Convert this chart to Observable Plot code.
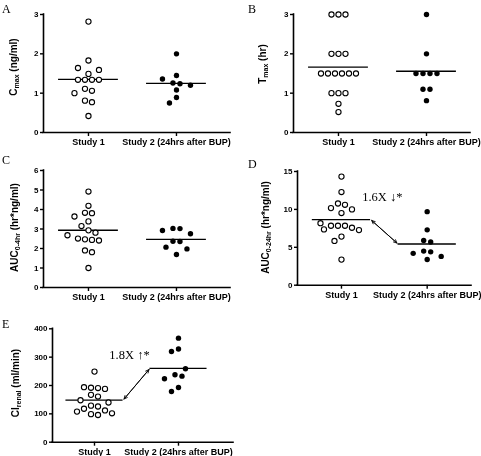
<!DOCTYPE html>
<html><head><meta charset="utf-8">
<script src="https://cdn.jsdelivr.net/npm/d3@7"></script>
<script src="https://cdn.jsdelivr.net/npm/@observablehq/plot@0.6"></script>
<style>
body{margin:0;background:#fff}
#fig{position:relative;width:481px;height:456px;overflow:hidden;background:#fff}
#fig svg{position:absolute;overflow:visible;will-change:transform}
</style></head><body><div id="fig"></div>
<script>
// ---- data ----
const studies = ["Study 1", "Study 2 (24hrs after BUP)"];

const cmaxStudy1 = [2.82, 1.83, 1.64, 1.59, 1.53, 1.49, 1.49, 1.34, 1.34, 1.34, 1.34, 1.11, 1.06, 1.00, 0.81, 0.77, 0.42];
const cmaxStudy2 = [2.00, 1.45, 1.36, 1.26, 1.24, 1.20, 1.08, 0.89, 0.75];
const cmaxTicks = [0, 1, 2, 3];

const tmaxStudy1 = [3, 3, 3, 2, 2, 2, 1.5, 1.5, 1.5, 1.5, 1.5, 1.5, 1, 1, 1, 0.73, 0.52];
const tmaxStudy2 = [3, 2, 1.5, 1.5, 1.5, 1.5, 1.1, 1.1, 0.81];
const tmaxTicks = [0, 1, 2, 3];

const auc04Study1 = [4.92, 4.19, 3.83, 3.81, 3.64, 3.39, 3.15, 2.93, 2.81, 2.68, 2.51, 2.47, 2.44, 2.41, 1.90, 1.81, 1.00];
const auc04Study2 = [3.03, 3.02, 2.92, 2.76, 2.37, 2.36, 2.07, 1.98, 1.69];
const auc04Ticks = [0, 1, 2, 3, 4, 5, 6];

const auc024Study1 = [14.33, 12.29, 10.78, 10.61, 10.17, 10.0, 9.52, 8.18, 7.84, 7.84, 7.84, 7.58, 7.36, 7.27, 6.41, 5.84, 3.38];
const auc024Study2 = [9.7, 7.3, 5.9, 5.7, 4.5, 4.4, 4.2, 3.8, 3.4];
const auc024Ticks = [0, 5, 10, 15];

const clrenalStudy1 = [249, 194, 192, 191, 188, 167, 161, 148, 140, 129, 126, 118, 112, 108, 102, 99, 96];
const clrenalStudy2 = [367, 329, 320, 259, 238, 233, 224, 193, 179];
const clrenalTicks = [0, 100, 200, 300, 400];

const panelLetters = ["A", "B", "C", "D", "E"];
const noteD = "1.6X \u2193*";
const noteE = "1.8X \u2191*";

// ---- styling ----
const SANS = "'Liberation Sans', Arial, Helvetica, sans-serif";
const SERIF = "'Liberation Serif', 'DejaVu Serif'";
const HALF = 0.34;   // half-length of the mean line (category units)
const STEP = 7;      // symbol spacing (px)
const ROWTOL = 2;    // px: values closer than this share a row

function layoutColumn(G, py, ox) {
  const idx = Array.from(G).sort((a, b) => py[a] - py[b]);
  const rows = [];
  for (const i of idx) {
    const row = rows[rows.length - 1];
    if (row && py[i] - py[row[0]] <= ROWTOL) row.push(i); else rows.push([i]);
  }
  rows.sort((a, b) => b.length - a.length || py[a[0]] - py[b[0]]);
  const placed = [];
  for (const row of rows) {
    const m = row.length;
    let offs;
    for (let k = 0; k < 60; ++k) {
      offs = row.map((i, j) => {
        if (m === 1) return k === 0 ? 0 : (k % 2 ? -1 : 1) * Math.ceil(k / 2) * STEP;
        const b = (j - (m - 1) / 2) * STEP;
        return b + Math.sign(b) * k * STEP;
      });
      const ok = row.every((i, j) => placed.every(p => Math.hypot(p.x - offs[j], p.y - py[i]) >= STEP - 0.05));
      if (ok) break;
    }
    row.forEach((i, j) => { ox[i] = offs[j]; placed.push({x: offs[j], y: py[i]}); });
  }
}

function swarm(options) {
  return Plot.initializer(options, function (data, facets, channels, scales) {
    const X = channels.x.value, Y = channels.y.value;
    const n = X.length;
    const px = new Float64Array(n), py = new Float64Array(n), ox = new Float64Array(n);
    for (let i = 0; i < n; ++i) { px[i] = scales.x(X[i]); py[i] = scales.y(Y[i]); }
    for (const I of facets) {
      for (const G of d3.group(I, i => X[i]).values()) layoutColumn(G, py, ox);
    }
    for (let i = 0; i < n; ++i) ox[i] += px[i];
    return {data, facets, channels: {x: {value: ox}, y: {value: py}}};
  });
}

const NS = "http://www.w3.org/2000/svg";
function addYLabel(svg, parts, x, y) {
  const t = document.createElementNS(NS, "text");
  t.setAttribute("transform", `translate(${x},${y}) rotate(-90)`);
  t.setAttribute("text-anchor", "middle");
  t.setAttribute("font-family", SANS);
  t.setAttribute("font-weight", "bold");
  t.setAttribute("font-size", "10");
  t.setAttribute("fill", "black");
  let shifted = false;
  for (const [s, sub] of parts) {
    const ts = document.createElementNS(NS, "tspan");
    ts.textContent = s;
    if (sub && !shifted) { ts.setAttribute("dy", "2"); shifted = true; }
    else if (!sub && shifted) { ts.setAttribute("dy", "-2"); shifted = false; }
    if (sub) ts.setAttribute("font-size", "7");
    t.appendChild(ts);
  }
  svg.appendChild(t);
}

const fig = document.getElementById("fig");

function panel(cfg) {
  const rows1 = cfg.s1.map(v => ({study: 0, value: v}));
  const rows2 = cfg.s2.map(v => ({study: 1, value: v}));
  const means = [{study: 0, value: d3.mean(cfg.s1)}, {study: 1, value: d3.mean(cfg.s2)}];
  const marks = [
    Plot.ruleY([0], {strokeWidth: 1.6, strokeLinecap: "square"}),
    Plot.ruleX([cfg.xDomain[0]], {strokeWidth: 1.6, strokeLinecap: "square"}),
    Plot.axisY({ticks: cfg.ticks, tickFormat: d => String(d), tickSize: 3, tickPadding: 2, fontSize: 8, strokeWidth: 1.4, label: null}),
    Plot.axisX({ticks: [0, 1], tickFormat: i => studies[i], tickSize: 4, tickPadding: 2, fontSize: 9, strokeWidth: 1.4, label: null}),
    Plot.ruleY(means, {x1: d => d.study - HALF, x2: d => d.study + HALF, y: "value", strokeWidth: 1.3}),
    Plot.dot(rows1, swarm({x: "study", y: "value", r: 2.6, fill: "white", stroke: "black", strokeWidth: 1.1})),
    Plot.dot(rows2, swarm({x: "study", y: "value", r: 2.7, fill: "black", stroke: "none"}))
  ];
  if (cfg.note) {
    const link = [{x1: HALF, y1: means[0].value, x2: 1 - HALF, y2: means[1].value}];
    const mid = [{x: 0.5, y: (means[0].value + means[1].value) / 2}];
    const ao = {headLength: 6, headAngle: 50, strokeWidth: 0.9, inset: 1.5};
    marks.push(
      Plot.arrow(link, {x1: "x1", y1: "y1", x2: "x2", y2: "y2", ...ao}),
      Plot.arrow(link, {x1: "x2", y1: "y2", x2: "x1", y2: "y1", ...ao}),
      Plot.text(mid, {x: "x", y: "y", text: () => cfg.note, dx: cfg.noteDx, dy: cfg.noteDy,
        lineAnchor: "bottom", fontFamily: SERIF, fontSize: 12.5, fontWeight: "normal", fill: "black"})
    );
  }
  const svg = Plot.plot({
    width: cfg.width, height: cfg.height,
    marginLeft: cfg.mL, marginRight: cfg.mR, marginTop: cfg.mT, marginBottom: cfg.mB,
    x: {domain: cfg.xDomain, label: null},
    y: {domain: [cfg.ticks[0], cfg.ticks[cfg.ticks.length - 1]], label: null},
    style: {fontFamily: SANS, fontWeight: "bold", fontSize: "9px", color: "black", background: "transparent", overflow: "visible"},
    marks
  });
  svg.style.left = cfg.left + "px";
  svg.style.top = cfg.top + "px";
  svg.style.position = "absolute";
  addYLabel(svg, cfg.ylabel, cfg.lx, cfg.ly);
  fig.appendChild(svg);
}

panel({left: 0, top: 0, width: 240, height: 150, mL: 43, mR: 10, mT: 14, mB: 18,
  xDomain: [-0.511, 1.614], ticks: cmaxTicks, s1: cmaxStudy1, s2: cmaxStudy2,
  ylabel: [["C"], ["max", 1], [" (ng/ml)"]], lx: 17, ly: 67});
panel({left: 240, top: 0, width: 241, height: 150, mL: 53, mR: 11, mT: 14, mB: 18,
  xDomain: [-0.511, 1.5], ticks: tmaxTicks, s1: tmaxStudy1, s2: tmaxStudy2,
  ylabel: [["T"], ["max", 1], [" (hr)"]], lx: 26, ly: 64});
panel({left: 0, top: 150, width: 240, height: 152, mL: 43, mR: 10, mT: 20, mB: 15,
  xDomain: [-0.511, 1.614], ticks: auc04Ticks, s1: auc04Study1, s2: auc04Study2,
  ylabel: [["AUC"], ["0-4hr", 1], [" (hr*ng/ml)"]], lx: 18, ly: 77.5});
panel({left: 240, top: 150, width: 241, height: 152, mL: 57, mR: 10, mT: 21, mB: 17.3,
  xDomain: [-0.513, 1.517], ticks: auc024Ticks, s1: auc024Study1, s2: auc024Study2,
  ylabel: [["AUC"], ["0-24hr", 1], [" (hr*ng/ml)"]], lx: 29, ly: 77.5,
  note: noteD, noteDx: -2, noteDy: -31});
panel({left: 0, top: 300, width: 240, height: 156, mL: 52, mR: 7, mT: 28.3, mB: 14.3,
  xDomain: [-0.5, 1.655], ticks: clrenalTicks, s1: clrenalStudy1, s2: clrenalStudy2,
  ylabel: [["Cl"], ["renal", 1], [" (ml/min)"]], lx: 19, ly: 83,
  note: noteE, noteDx: -7, noteDy: -25});

// panel letters
const over = document.createElementNS(NS, "svg");
over.setAttribute("width", 481); over.setAttribute("height", 456);
over.style.left = "0px"; over.style.top = "0px";
const letterPos = [[2, 13], [248, 13], [2, 164], [248, 168], [2, 328]];
panelLetters.forEach((L, i) => {
  const t = document.createElementNS(NS, "text");
  t.setAttribute("x", letterPos[i][0]); t.setAttribute("y", letterPos[i][1]);
  t.setAttribute("font-family", SERIF); t.setAttribute("font-size", "12");
  t.textContent = L;
  over.appendChild(t);
});
fig.insertBefore(over, fig.firstChild);
</script></body></html>
